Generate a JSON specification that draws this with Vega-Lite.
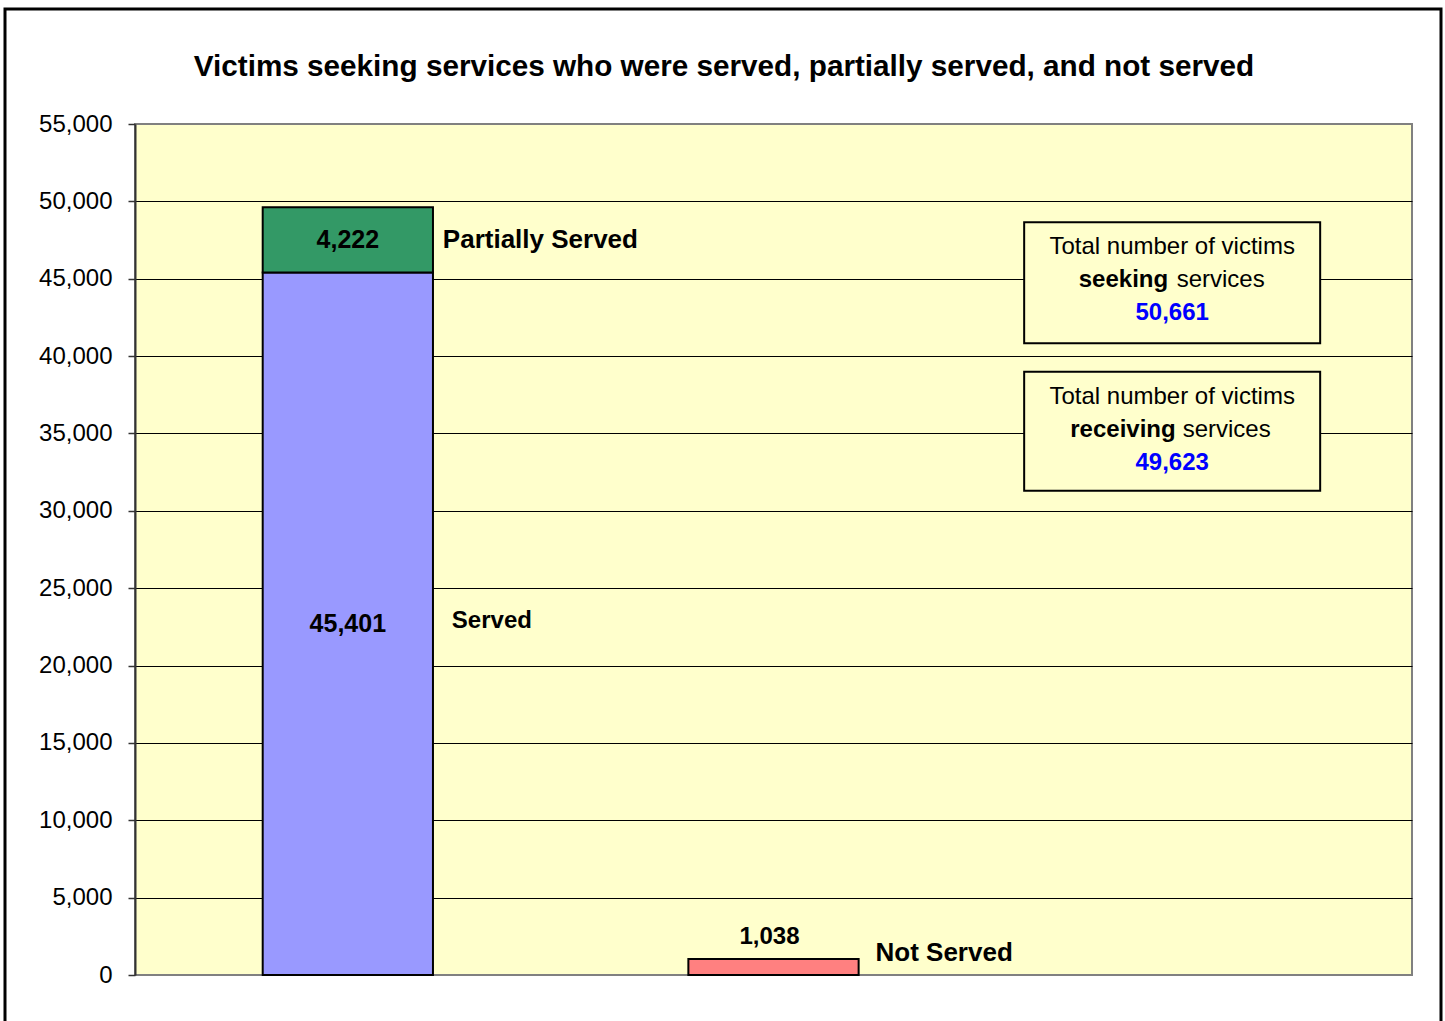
{
  "$schema": "https://vega.github.io/schema/vega-lite/v6.json",
  "width": 1277,
  "height": 851,
  "autosize": "none",
  "padding": {"left": 135, "top": 124, "right": 33, "bottom": 46},
  "background": "#FFFFFF",
  "config": {
    "view": {"fill": "#FFFFCC", "stroke": "#808080", "strokeWidth": 2},
    "text": {"font": "Liberation Sans", "color": "#000000"}
  },
  "data": {
    "values": [
      {"group": "A", "status": "Served", "count": 45401},
      {"group": "A", "status": "Partially Served", "count": 4222},
      {"group": "B", "status": "Not Served", "count": 1038}
    ]
  },
  "layer": [
    {
      "mark": {"type": "bar", "stroke": "#000000", "strokeWidth": 2},
      "encoding": {
        "x": {
          "field": "group",
          "type": "nominal",
          "scale": {"domain": ["A", "B", "Totals"], "paddingInner": 0.6, "paddingOuter": 0.3},
          "axis": null
        },
        "y": {
          "field": "count",
          "type": "quantitative",
          "stack": "zero",
          "scale": {"domain": [0, 55000], "nice": false},
          "axis": {
            "title": null,
            "values": [0, 5000, 10000, 15000, 20000, 25000, 30000, 35000, 40000, 45000, 50000, 55000],
            "labelExpr": "format(datum.value, ',')",
            "labelFont": "Liberation Sans",
            "labelFontSize": 24,
            "labelColor": "#000000",
            "labelPadding": 16,
            "tickSize": 7,
            "tickColor": "#333333",
            "tickWidth": 1.5,
            "domainColor": "#333333",
            "domainWidth": 2,
            "grid": true,
            "gridColor": {"condition": {"test": "datum.value == 0 || datum.value == 55000", "value": "#808080"}, "value": "#000000"},
            "gridWidth": 1.2
          }
        },
        "color": {
          "field": "status",
          "type": "nominal",
          "scale": {"domain": ["Served", "Partially Served", "Not Served"], "range": ["#9999FF", "#339966", "#FF8080"]},
          "legend": null
        },
        "order": {"field": "status", "sort": "descending"}
      }
    },
    {
      "transform": [
        {"stack": "count", "groupby": ["group"], "sort": [{"field": "status", "order": "descending"}], "as": ["s0", "s1"]},
        {"fold": ["s0", "s1"], "as": ["edge", "pos"]},
        {"aggregate": [{"op": "mean", "field": "pos", "as": "mid"}], "groupby": ["group", "status", "count"]}
      ],
      "layer": [
        {
          "transform": [{"filter": "datum.group == 'A'"}],
          "mark": {"type": "text", "fontSize": 25, "fontWeight": "bold", "baseline": "middle", "align": "center"},
          "encoding": {
            "x": {"field": "group", "type": "nominal", "axis": null},
            "y": {"field": "mid", "type": "quantitative", "title": null},
            "text": {"field": "count", "type": "quantitative", "format": ","}
          }
        },
        {
          "transform": [{"filter": "datum.status == 'Partially Served'"}],
          "mark": {"type": "text", "fontSize": 26, "fontWeight": "bold", "baseline": "middle", "align": "left", "dx": 95},
          "encoding": {
            "x": {"field": "group", "type": "nominal", "axis": null},
            "y": {"field": "mid", "type": "quantitative", "title": null},
            "text": {"field": "status", "type": "nominal"}
          }
        },
        {
          "transform": [{"filter": "datum.status == 'Served'"}],
          "mark": {"type": "text", "fontSize": 24, "fontWeight": "bold", "baseline": "middle", "align": "left", "dx": 104, "dy": -3},
          "encoding": {
            "x": {"field": "group", "type": "nominal", "axis": null},
            "y": {"field": "mid", "type": "quantitative", "title": null},
            "text": {"field": "status", "type": "nominal"}
          }
        }
      ]
    },
    {
      "transform": [{"filter": "datum.status == 'Not Served'"}],
      "layer": [
        {
          "mark": {"type": "text", "fontSize": 24, "fontWeight": "bold", "baseline": "middle", "align": "center", "dx": -4, "dy": -22},
          "encoding": {
            "x": {"field": "group", "type": "nominal", "axis": null},
            "y": {"field": "count", "type": "quantitative", "title": null},
            "text": {"field": "count", "type": "quantitative", "format": ","}
          }
        },
        {
          "mark": {"type": "text", "fontSize": 26, "fontWeight": "bold", "baseline": "middle", "align": "left", "dx": 102, "dy": -6},
          "encoding": {
            "x": {"field": "group", "type": "nominal", "axis": null},
            "y": {"field": "count", "type": "quantitative", "title": null},
            "text": {"field": "status", "type": "nominal"}
          }
        }
      ]
    },
    {
      "data": {"values": [{"verb": "seeking", "total": 50661}]},
      "layer": [
        {
          "mark": {"type": "bar", "fill": "#FFFFCC", "stroke": "#000000", "strokeWidth": 2, "width": 296, "xOffset": -27},
          "encoding": {
            "x": {"datum": "Totals", "type": "nominal", "axis": null},
            "y": {"datum": 48645, "type": "quantitative"},
            "y2": {"datum": 40826}
          }
        },
        {
          "mark": {"type": "text", "fontSize": 24, "baseline": "middle", "align": "center", "dx": -27, "dy": 25, "text": "Total number of victims"},
          "encoding": {"x": {"datum": "Totals", "type": "nominal", "axis": null}, "y": {"datum": 48645, "type": "quantitative"}}
        },
        {
          "mark": {"type": "text", "fontSize": 24, "fontWeight": "bold", "baseline": "middle", "align": "right", "dx": -31, "dy": 58},
          "encoding": {"x": {"datum": "Totals", "type": "nominal", "axis": null}, "y": {"datum": 48645, "type": "quantitative"}, "text": {"field": "verb", "type": "nominal"}}
        },
        {
          "mark": {"type": "text", "fontSize": 24, "baseline": "middle", "align": "left", "dx": -22.5, "dy": 58, "text": "services"},
          "encoding": {"x": {"datum": "Totals", "type": "nominal", "axis": null}, "y": {"datum": 48645, "type": "quantitative"}}
        },
        {
          "mark": {"type": "text", "fontSize": 24, "fontWeight": "bold", "color": "#0000FF", "baseline": "middle", "align": "center", "dx": -27, "dy": 91},
          "encoding": {"x": {"datum": "Totals", "type": "nominal", "axis": null}, "y": {"datum": 48645, "type": "quantitative"}, "text": {"field": "total", "type": "quantitative", "format": ","}}
        }
      ]
    },
    {
      "data": {"values": [{"verb": "receiving", "total": 49623}]},
      "layer": [
        {
          "mark": {"type": "bar", "fill": "#FFFFCC", "stroke": "#000000", "strokeWidth": 2, "width": 296, "xOffset": -27},
          "encoding": {
            "x": {"datum": "Totals", "type": "nominal", "axis": null},
            "y": {"datum": 38991, "type": "quantitative"},
            "y2": {"datum": 31300}
          }
        },
        {
          "mark": {"type": "text", "fontSize": 24, "baseline": "middle", "align": "center", "dx": -27, "dy": 25, "text": "Total number of victims"},
          "encoding": {"x": {"datum": "Totals", "type": "nominal", "axis": null}, "y": {"datum": 38991, "type": "quantitative"}}
        },
        {
          "mark": {"type": "text", "fontSize": 24, "fontWeight": "bold", "baseline": "middle", "align": "right", "dx": -23.5, "dy": 58},
          "encoding": {"x": {"datum": "Totals", "type": "nominal", "axis": null}, "y": {"datum": 38991, "type": "quantitative"}, "text": {"field": "verb", "type": "nominal"}}
        },
        {
          "mark": {"type": "text", "fontSize": 24, "baseline": "middle", "align": "left", "dx": -16.5, "dy": 58, "text": "services"},
          "encoding": {"x": {"datum": "Totals", "type": "nominal", "axis": null}, "y": {"datum": 38991, "type": "quantitative"}}
        },
        {
          "mark": {"type": "text", "fontSize": 24, "fontWeight": "bold", "color": "#0000FF", "baseline": "middle", "align": "center", "dx": -27, "dy": 91},
          "encoding": {"x": {"datum": "Totals", "type": "nominal", "axis": null}, "y": {"datum": 38991, "type": "quantitative"}, "text": {"field": "total", "type": "quantitative", "format": ","}}
        }
      ]
    },
    {
      "data": {"values": [{"title": "Victims seeking services who were served, partially served, and not served"}]},
      "mark": {"type": "text", "fontSize": 29.7, "fontWeight": "bold", "baseline": "alphabetic", "align": "center", "dx": -49.5},
      "encoding": {
        "x": {"datum": "B", "type": "nominal", "axis": null},
        "y": {"datum": 58102, "type": "quantitative"},
        "text": {"field": "title", "type": "nominal"}
      }
    },
    {
      "data": {"values": [{"frame": "outer"}]},
      "mark": {"type": "bar", "fill": null, "fillOpacity": 0, "stroke": "#000000", "strokeWidth": 3, "width": 1436, "xOffset": -50.5},
      "encoding": {
        "x": {"datum": "B", "type": "nominal", "axis": null},
        "y": {"datum": 62440, "type": "quantitative"},
        "y2": {"datum": -4000}
      }
    }
  ]
}
